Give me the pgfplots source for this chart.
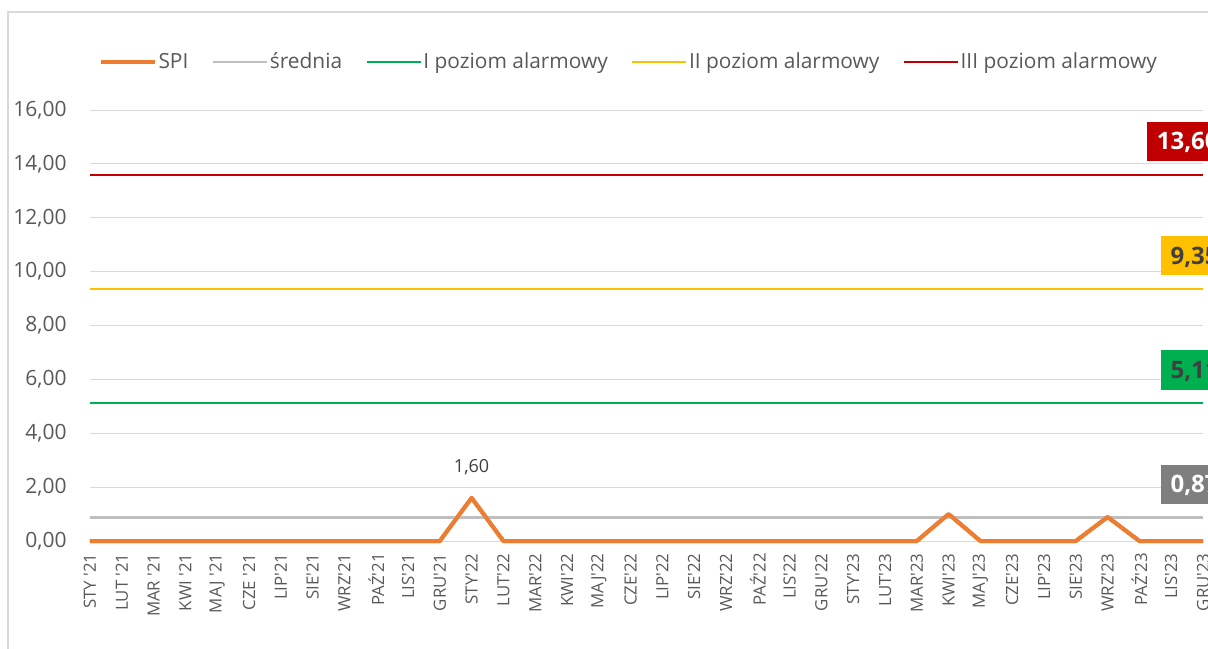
\documentclass[border=0pt]{standalone}
\usepackage{fontspec}
\setmainfont{Open Sans}
\usepackage{pgfplots}
\usepackage{pgfplotstable}
\pgfplotsset{compat=1.18}

\definecolor{spi}{HTML}{ED7D31}
\definecolor{sred}{HTML}{BFBFBF}
\definecolor{lvA}{HTML}{00B050}
\definecolor{lvB}{HTML}{FFC000}
\definecolor{lvC}{HTML}{C00000}
\definecolor{txt}{HTML}{595959}
\definecolor{lab}{HTML}{404040}
\definecolor{gridc}{HTML}{D9D9D9}
\definecolor{greybox}{HTML}{7F7F7F}

\newcommand\q{\textquotesingle}

% m = miesiac (0 = STY'21), spi, srednia, poziomy alarmowe
\pgfplotstableread{
m spi sr a1 a2 a3
0 0 0.87 5.11 9.35 13.60
1 0 0.87 5.11 9.35 13.60
2 0 0.87 5.11 9.35 13.60
3 0 0.87 5.11 9.35 13.60
4 0 0.87 5.11 9.35 13.60
5 0 0.87 5.11 9.35 13.60
6 0 0.87 5.11 9.35 13.60
7 0 0.87 5.11 9.35 13.60
8 0 0.87 5.11 9.35 13.60
9 0 0.87 5.11 9.35 13.60
10 0 0.87 5.11 9.35 13.60
11 0 0.87 5.11 9.35 13.60
12 1.60 0.87 5.11 9.35 13.60
13 0 0.87 5.11 9.35 13.60
14 0 0.87 5.11 9.35 13.60
15 0 0.87 5.11 9.35 13.60
16 0 0.87 5.11 9.35 13.60
17 0 0.87 5.11 9.35 13.60
18 0 0.87 5.11 9.35 13.60
19 0 0.87 5.11 9.35 13.60
20 0 0.87 5.11 9.35 13.60
21 0 0.87 5.11 9.35 13.60
22 0 0.87 5.11 9.35 13.60
23 0 0.87 5.11 9.35 13.60
24 0 0.87 5.11 9.35 13.60
25 0 0.87 5.11 9.35 13.60
26 0 0.87 5.11 9.35 13.60
27 1.00 0.87 5.11 9.35 13.60
28 0 0.87 5.11 9.35 13.60
29 0 0.87 5.11 9.35 13.60
30 0 0.87 5.11 9.35 13.60
31 0 0.87 5.11 9.35 13.60
32 0.89 0.87 5.11 9.35 13.60
33 0 0.87 5.11 9.35 13.60
34 0 0.87 5.11 9.35 13.60
35 0 0.87 5.11 9.35 13.60
}\dane

\pgfplotsset{
  lastlabel/.style n args={2}{
    draw=none, forget plot, point meta=y,
    nodes near coords={\pgfmathprintnumber[fixed,fixed zerofill,precision=2,use comma]{\pgfplotspointmeta}},
    nodes near coords align={anchor=south east},
    every node near coord/.append style={xshift=13pt, yshift=6.7pt, fill=#1, text=#2,
      font=\fontsize{12}{14}\selectfont\bfseries, inner xsep=5pt, inner ysep=5.5pt,
      text height=8.6pt, text depth=0pt},
  },
}

\begin{document}
\begin{tikzpicture}
\begin{scope}
\clip (-45pt,-53.5pt) rectangle (559pt,270.5pt);
\draw[gridc, line width=0.75pt] (-41pt,-100pt) rectangle (700pt,264.5pt);
\begin{axis}[
    scale only axis,
    width=556.5pt, height=215.5pt,
    xmin=0, xmax=35, ymin=0, ymax=16,
    clip=false,
    axis line style={draw=none},
    major tick length=0pt,
    ytick={0,2,...,16},
    xtick={0,...,35},
    xticklabels={STY \q21, LUT \q21, MAR \q21, KWI \q21, MAJ \q21, CZE \q21,
      LIP\q21, SIE\q21, WRZ\q21, PAŹ\q21, LIS\q21, GRU\q21,
      STY\q22, LUT\q22, MAR\q22, KWI\q22, MAJ\q22, CZE\q22,
      LIP\q22, SIE\q22, WRZ\q22, PAŹ\q22, LIS\q22, GRU\q22,
      STY\q23, LUT\q23, MAR\q23, KWI\q23, MAJ\q23, CZE\q23,
      LIP\q23, SIE\q23, WRZ\q23, PAŹ\q23, LIS\q23, GRU\q23},
    ymajorgrids,
    major grid style={draw=gridc, line width=0.5pt},
    /pgf/number format/fixed,
    /pgf/number format/fixed zerofill,
    /pgf/number format/precision=2,
    /pgf/number format/use comma,
    /pgf/number format/assume math mode=true,
    yticklabel style={font=\fontsize{10.5}{12}\selectfont, text=txt, anchor=east, inner sep=0pt, xshift=-11.5pt},
    xticklabel style={font=\fontsize{8.4}{10}\selectfont, text=txt, inner sep=0pt, yshift=-6pt, rotate=90, anchor=east},
    legend columns=5,
    legend style={draw=none, fill=none, at={(0.484,1.111)}, anchor=center,
      font=\fontsize{10.45}{12}\selectfont, text=txt,
      nodes={inner xsep=0.75pt, inner ysep=1pt},
      /tikz/every even column/.append style={column sep=11pt}},
    legend image code/.code={\draw[#1] (0pt,0pt) -- (27pt,0pt);},
]
\addplot[spi, line width=2pt, line join=round] table[x=m, y=spi] {\dane};
\addlegendentry{SPI}
\addplot[sred, line width=1.2pt] table[x=m, y=sr] {\dane};
\addlegendentry{średnia}
\addplot[lvA, line width=1.1pt] table[x=m, y=a1] {\dane};
\addlegendentry{I poziom alarmowy}
\addplot[lvB, line width=1.1pt] table[x=m, y=a2] {\dane};
\addlegendentry{II poziom alarmowy}
\addplot[lvC, line width=1.1pt] table[x=m, y=a3] {\dane};
\addlegendentry{III poziom alarmowy}
\addplot[spi, line width=2pt, line join=round, forget plot] table[x=m, y=spi] {\dane};

% etykieta szczytu SPI
\addplot[draw=none, forget plot, point meta=y,
    nodes near coords={\pgfmathprintnumber[fixed,fixed zerofill,precision=2,use comma]{\pgfplotspointmeta}},
    nodes near coords align={anchor=south},
    every node near coord/.append style={yshift=11.3pt, inner sep=0pt, text=lab,
      font=\fontsize{9}{11}\selectfont}]
  coordinates {(12,1.60)};

% etykiety ostatnich wartosci
\addplot[lastlabel={lvC}{white}] coordinates {(35,13.60)};
\addplot[lastlabel={lvB}{lab}] coordinates {(35,9.35)};
\addplot[lastlabel={lvA}{lab}] coordinates {(35,5.11)};
\addplot[lastlabel={greybox}{white}] coordinates {(35,0.87)};
\end{axis}
\end{scope}
\pgfresetboundingbox
\path[use as bounding box] (-45pt,-53.5pt) rectangle (559pt,270.5pt);
\end{tikzpicture}
\end{document}
